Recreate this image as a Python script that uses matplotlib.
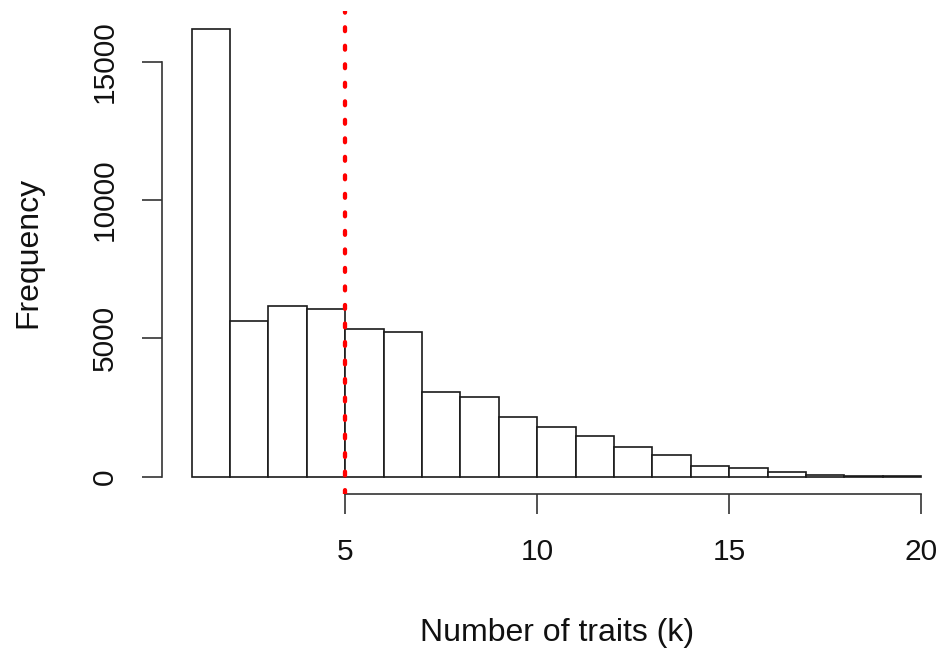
import numpy as np
import matplotlib
matplotlib.use("Agg")
import matplotlib.pyplot as plt

# Histogram of number of traits per item, unit-width bins from 1 to 20
bin_left = [1, 2, 3, 4, 5, 6, 7, 8, 9, 10, 11, 12, 13, 14, 15, 16, 17, 18, 19]
counts = [16200, 5640, 6170, 6070, 5340, 5220, 3070, 2870, 2160, 1800,
          1470, 1070, 780, 390, 310, 170, 40, 25, 15]
cutoff = 5

x_ticks = [5, 10, 15, 20]
y_ticks = [0, 5000, 10000, 15000]

plt.rcParams["font.family"] = ["Liberation Sans", "DejaVu Sans"]

fig = plt.figure(figsize=(9.43, 6.52), dpi=100)
ax = fig.add_axes([0.1723, 0.2417, 0.8356, 0.7417])

ax.bar(bin_left, counts, width=1, align="edge", facecolor="white",
       edgecolor="#1a1a1a", linewidth=1.2)

# R-style padding of 4% on each side
xr = bin_left[-1] + 1 - bin_left[0]
ax.set_xlim(bin_left[0] - 0.04 * xr, bin_left[-1] + 1 + 0.04 * xr)
ymax = max(counts)
ax.set_ylim(-0.04 * ymax, 1.04 * ymax)

# dotted cutoff line
ax.axvline(cutoff, color="red", linewidth=3.1, linestyle=(0, (0.9, 3.4)),
           dash_capstyle="round", zorder=5)

for s in ["top", "right"]:
    ax.spines[s].set_visible(False)
ax.spines["left"].set_bounds(y_ticks[0], y_ticks[-1])
ax.spines["bottom"].set_bounds(x_ticks[0], x_ticks[-1])
for s in ["left", "bottom"]:
    ax.spines[s].set_linewidth(1.2)
    ax.spines[s].set_color("#333333")

ax.set_xticks(x_ticks)
ax.set_xticklabels([str(t) for t in x_ticks])
ax.set_yticks(y_ticks)
ax.set_yticklabels([str(t) for t in y_ticks], rotation=90, va="center")
ax.tick_params(axis="both", length=14.4, width=1.2, color="#333333",
               labelsize=21.5, labelcolor="#111111")
ax.tick_params(axis="x", pad=17)
ax.tick_params(axis="y", pad=17)

fig.text(557 / 943, 1 - 633 / 652, "Number of traits (k)", fontsize=23,
         ha="center", va="center", color="#111111")
fig.text(28 / 943, 1 - 252 / 652, "Frequency", fontsize=23, rotation=90,
         ha="center", va="center", color="#111111")

fig.savefig("out.png", dpi=100)
